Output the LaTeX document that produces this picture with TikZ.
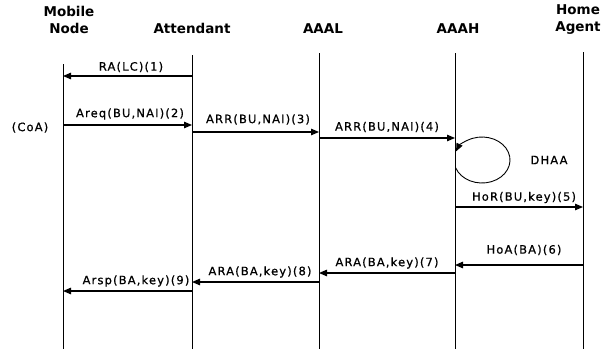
\documentclass[tikz,border=0pt]{standalone}
\usepackage{fontspec}
\setmainfont{DejaVu Sans}
\newfontfamily\labfont[LetterSpace=10,FakeBold=0.8]{DejaVu Sans}
\newfontfamily\titfont{DejaVu Sans Bold}
\usetikzlibrary{arrows.meta}
\begin{document}
\begin{tikzpicture}[x=1pt,y=1pt,
  life/.style={line width=0.9pt},
  msg/.style={line width=1.1pt,-{Triangle[length=8pt,width=6.5pt]}},
  lab/.style={inner sep=0pt,font={\labfont\fontsize{11.5}{13}\selectfont}},
  tit/.style={inner sep=0pt,align=center,anchor=base,font={\titfont\fontsize{13.5}{17}\selectfont}}]
\useasboundingbox (0,0) rectangle (613,-349);
% titles
\node[tit] (tmn) at (69,-33) {Mobile\\Node};
\node[tit] (tat) at (192,-33) {Attendant};
\node[tit] (tal) at (323,-33) {AAAL};
\node[tit] (tah) at (458,-33) {AAAH};
\node[tit] (tha) at (578,-31) {Home\\Agent};
% lifelines
\coordinate (mn) at (63,-64);  \coordinate (mnb) at (63,-349);
\coordinate (at) at (192,-55); \coordinate (atb) at (192,-349);
\coordinate (al) at (319,-53); \coordinate (alb) at (319,-349);
\coordinate (ah) at (455,-53); \coordinate (ahb) at (455,-349);
\coordinate (ha) at (583,-52); \coordinate (hab) at (583,-349);
\draw[life] (mn) -- (mnb);
\draw[life] (at) -- (atb);
\draw[life] (al) -- (alb);
\draw[life] (ah) -- (ahb);
\draw[life] (ha) -- (hab);
% message heights
\coordinate (y1) at (0,-76);
\coordinate (y2) at (0,-125);
\coordinate (y3) at (0,-132);
\coordinate (y4) at (0,-138);
\coordinate (y5) at (0,-207);
\coordinate (y6) at (0,-265);
\coordinate (y7) at (0,-273);
\coordinate (y8) at (0,-282);
\coordinate (y9) at (0,-291);
% messages
\draw[msg] (at |- y1) -- (mn |- y1);
\draw[msg] (mn |- y2) -- (at |- y2);
\draw[msg] (at |- y3) -- (al |- y3);
\draw[msg] (al |- y4) -- (ah |- y4);
\draw[msg] (ah |- y5) -- (ha |- y5);
\draw[msg] (ha |- y6) -- (ah |- y6);
\draw[msg] (ah |- y7) -- (al |- y7);
\draw[msg] (al |- y8) -- (at |- y8);
\draw[msg] (at |- y9) -- (mn |- y9);
% labels
\node[lab] (l1) at (131,-67) {RA(LC)(1)};
\node[lab] (l2) at (130,-114) {Areq(BU,NAI)(2)};
\node[lab] (l3) at (258,-119.5) {ARR(BU,NAI)(3)};
\node[lab] (l4) at (387,-127) {ARR(BU,NAI)(4)};
\node[lab] (l5) at (524,-197.5) {HoR(BU,key)(5)};
\node[lab] (l6) at (524,-250) {HoA(BA)(6)};
\node[lab] (l7) at (387,-263) {ARA(BA,key)(7)};
\node[lab] (l8) at (260,-272) {ARA(BA,key)(8)};
\node[lab] (l9) at (136,-281) {Arsp(BA,key)(9)};
\node[lab] (coa) at (30,-127.5) {(CoA)};
% DHAA loop
\coordinate (dh) at (482,-160);
\draw[line width=0.9pt,-{Triangle[length=8pt,width=6.5pt]}] (dh) ++(200:28 and 23) arc[start angle=200,end angle=518,x radius=28,y radius=23];
\node[lab] (dhaa) at (549,-160) {DHAA};
\end{tikzpicture}
\end{document}
